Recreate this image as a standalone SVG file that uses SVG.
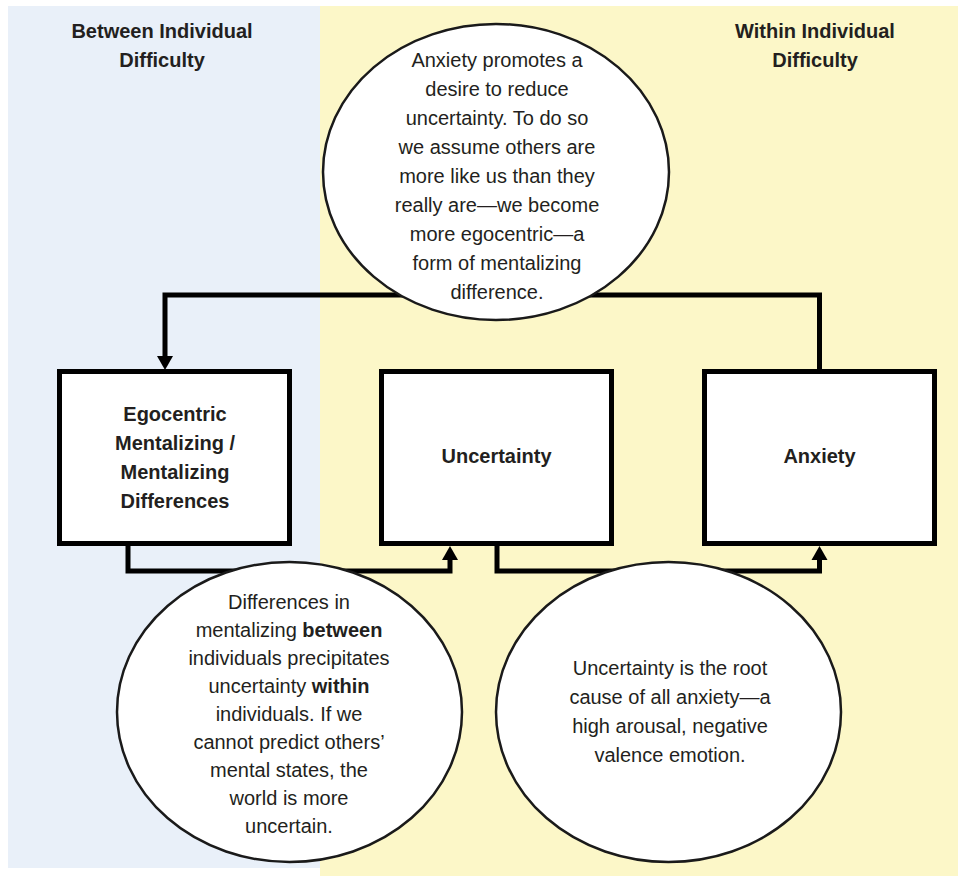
<svg xmlns="http://www.w3.org/2000/svg" width="958" height="876" viewBox="0 0 958 876">
<defs>
<style>
.t{font-family:"Liberation Sans",Arial,sans-serif;font-size:20px;fill:#231f20;text-anchor:middle}
.b{font-weight:bold}
.box{fill:#fff;stroke:#000;stroke-width:5}
.ell{fill:#fff;stroke:#1a1a1a;stroke-width:2.5}
.con{fill:none;stroke:#000;stroke-width:5;stroke-linejoin:miter}
.ah{fill:#000}
</style>
</defs>
<rect x="0" y="0" width="958" height="876" fill="#fff"/>
<rect x="8" y="6" width="312" height="862" fill="#e9f0f9"/>
<rect x="320" y="6" width="638" height="870" fill="#fcf7c8"/>
<g id="headers">
<text class="t b" x="162" y="38">Between Individual</text>
<text class="t b" x="162" y="67">Difficulty</text>
<text class="t b" x="815" y="38">Within Individual</text>
<text class="t b" x="815" y="67">Difficulty</text>
</g>
<g id="connectors">
<path class="con" d="M819.5 369 V295 H165 V358"/>
<polygon class="ah" points="157,356 173,356 165,370"/>
<path class="con" d="M128 546 V571 H450 V558"/>
<polygon class="ah" points="442,560 458,560 450,546"/>
<path class="con" d="M497 546 V571 H819.5 V558"/>
<polygon class="ah" points="811.5,560 827.5,560 819.5,546"/>
</g>
<g id="note-anxiety">
<ellipse class="ell" cx="496" cy="172" rx="173" ry="148"/>
<text class="t" x="497" y="67">Anxiety promotes a</text>
<text class="t" x="497" y="96">desire to reduce</text>
<text class="t" x="497" y="125">uncertainty. To do so</text>
<text class="t" x="497" y="154">we assume others are</text>
<text class="t" x="497" y="183">more like us than they</text>
<text class="t" x="497" y="212">really are—we become</text>
<text class="t" x="497" y="241">more egocentric—a</text>
<text class="t" x="497" y="270">form of mentalizing</text>
<text class="t" x="497" y="299">difference.</text>
</g>
<g id="box-egocentric">
<rect class="box" x="59.5" y="371.5" width="230" height="172"/>
<text class="t b" x="175" y="421">Egocentric</text>
<text class="t b" x="175" y="450">Mentalizing /</text>
<text class="t b" x="175" y="479">Mentalizing</text>
<text class="t b" x="175" y="508">Differences</text>
</g>
<g id="box-uncertainty">
<rect class="box" x="381.5" y="371.5" width="230" height="172"/>
<text class="t b" x="496.5" y="463">Uncertainty</text>
</g>
<g id="box-anxiety">
<rect class="box" x="704.5" y="371.5" width="230" height="172"/>
<text class="t b" x="819.5" y="463">Anxiety</text>
</g>
<g id="note-between">
<ellipse class="ell" cx="289.5" cy="712" rx="172.5" ry="150"/>
<text class="t" x="289" y="609">Differences in</text>
<text class="t" x="289" y="637">mentalizing <tspan class="b">between</tspan></text>
<text class="t" x="289" y="665">individuals precipitates</text>
<text class="t" x="289" y="693">uncertainty <tspan class="b">within</tspan></text>
<text class="t" x="289" y="721">individuals. If we</text>
<text class="t" x="289" y="749">cannot predict others’</text>
<text class="t" x="289" y="777">mental states, the</text>
<text class="t" x="289" y="805">world is more</text>
<text class="t" x="289" y="833">uncertain.</text>
</g>
<g id="note-uncertainty">
<ellipse class="ell" cx="668.5" cy="712" rx="172.5" ry="150"/>
<text class="t" x="670" y="675">Uncertainty is the root</text>
<text class="t" x="670" y="704">cause of all anxiety—a</text>
<text class="t" x="670" y="733">high arousal, negative</text>
<text class="t" x="670" y="762">valence emotion.</text>
</g>
</svg>
